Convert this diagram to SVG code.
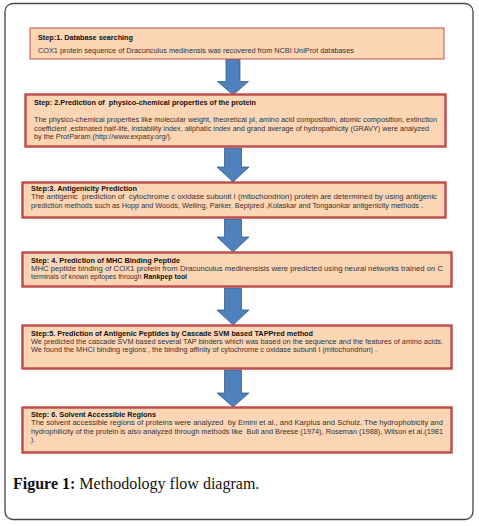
<svg xmlns="http://www.w3.org/2000/svg" width="479" height="526" viewBox="0 0 479 526">
<defs>
<style>
.box{fill:#fcd5b5;stroke:#c0504d;stroke-width:2.5}
.box1{fill:#fcd5b5;stroke:#c0504d;stroke-width:1}
.st{font-family:"Liberation Sans",Arial,sans-serif;font-size:6.6px;font-weight:bold;fill:#111;white-space:pre}
.tx{font-family:"Liberation Sans",Arial,sans-serif;font-size:6.6px;fill:#333;white-space:pre}
.arrow{fill:#4f81bd;stroke:#385d8a;stroke-width:0.8}
.cap{font-family:"Liberation Serif","Times New Roman",serif;font-size:16px;fill:#111}
</style>
</defs>
<rect x="5" y="3.5" width="468" height="516" rx="8" ry="8" fill="#fff" stroke="#444" stroke-width="1.3"/>
<g id="connectors">
<path class="arrow" d="M226,59 H240 V81.5 H248.5 L233,95 L217.5,81.5 H226 Z"/>
<path class="arrow" d="M224.5,148 H241.5 V167 H249 L233,182 L217,167 H224.5 Z"/>
<path class="arrow" d="M224.5,219 H241.5 V237 H249 L233,252 L217,237 H224.5 Z"/>
<path class="arrow" d="M224.5,288 H241.5 V310 H249 L233,325 L217,310 H224.5 Z"/>
<path class="arrow" d="M224.5,370 H241.5 V393 H249 L233,407 L217,393 H224.5 Z"/>
</g>
<g id="step1">
<rect class="box1" x="30" y="28" width="414" height="31"/>
<text class="st" x="38" y="39.5" textLength="95" lengthAdjust="spacingAndGlyphs">Step:1. Database searching</text>
<text class="tx" x="38" y="53" textLength="316" lengthAdjust="spacingAndGlyphs" fill="#555">COX1 protein sequence of Dracunculus medinensis was recovered from NCBI UniProt databases</text>
</g>
<g id="step2">
<rect class="box" x="25.5" y="94.5" width="420" height="52"/>
<text class="st" x="34" y="105" textLength="222" lengthAdjust="spacingAndGlyphs">Step: 2.Prediction of  physico-chemical properties of the protein</text>
<text class="tx" x="34" y="122" textLength="403" lengthAdjust="spacingAndGlyphs">The physico-chemical properties like molecular weight, theoretical pI, amino acid composition, atomic composition, extinction</text>
<text class="tx" x="34" y="130.5" textLength="395" lengthAdjust="spacingAndGlyphs">coefficient ,estimated half-life, instability index, aliphatic index and grand average of hydropathicity (GRAVY) were analyzed</text>
<text class="tx" x="34" y="139" textLength="138" lengthAdjust="spacingAndGlyphs">by the ProtParam (http://www.expasy.org/).</text>
</g>
<g id="step3">
<rect class="box" x="22.5" y="182.5" width="423" height="35"/>
<text class="st" x="31" y="190.5" textLength="106" lengthAdjust="spacingAndGlyphs">Step:3. Antigenicity Prediction</text>
<text class="tx" x="31" y="199" textLength="406" lengthAdjust="spacingAndGlyphs">The antigenic  prediction of  cytochrome c oxidase subunit I (mitochondrion) protein are determined by using antigenic</text>
<text class="tx" x="31" y="207.5" textLength="392" lengthAdjust="spacingAndGlyphs">prediction methods such as Hopp and Woods, Welling, Parker, Bepipred ,Kolaskar and Tongaonkar antigenicity methods .</text>
</g>
<g id="step4">
<rect class="box" x="22.5" y="252.5" width="429" height="34"/>
<text class="st" x="31" y="263" textLength="149" lengthAdjust="spacingAndGlyphs">Step: 4. Prediction of MHC Binding Peptide</text>
<text class="tx" x="31" y="271" textLength="412" lengthAdjust="spacingAndGlyphs">MHC peptide binding of COX1 protein from Dracunculus medinensisis were predicted using neural networks trained on C</text>
<text class="tx" x="31" y="279" textLength="156" lengthAdjust="spacingAndGlyphs">terminals of known epitopes through <tspan font-weight="bold" fill="#111">Rankpep tool</tspan></text>
</g>
<g id="step5">
<rect class="box" x="22.5" y="325.5" width="429" height="43"/>
<text class="st" x="31" y="335.5" textLength="282" lengthAdjust="spacingAndGlyphs">Step:5. Prediction of Antigenic Peptides by Cascade SVM based TAPPred method</text>
<text class="tx" x="31" y="343.5" textLength="412" lengthAdjust="spacingAndGlyphs">We predicted the cascade SVM based several TAP binders which was based on the sequence and the features of amino acids.</text>
<text class="tx" x="31" y="352" textLength="346" lengthAdjust="spacingAndGlyphs">We found the MHCI binding regions , the binding affinity of cytochrome c oxidase subunit I (mitochondrion) .</text>
</g>
<g id="step6">
<rect class="box" x="22.5" y="407.5" width="429" height="45"/>
<text class="st" x="31" y="417" textLength="125" lengthAdjust="spacingAndGlyphs">Step: 6. Solvent Accessible Regions</text>
<text class="tx" x="31" y="424.5" textLength="412" lengthAdjust="spacingAndGlyphs">The solvent accessible regions of proteins were analyzed  by Emini et al., and Karplus and Schulz. The hydrophobicity and</text>
<text class="tx" x="31" y="433.5" textLength="412" lengthAdjust="spacingAndGlyphs">hydrophilicity of the protein is also analyzed through methods like  Bull and Breese (1974), Roseman (1988), Wilson et al.(1981</text>
<text class="tx" x="31" y="442">).</text>
</g>
<text class="cap" x="13" y="489"><tspan font-weight="bold">Figure 1:</tspan> Methodology flow diagram.</text>
</svg>
